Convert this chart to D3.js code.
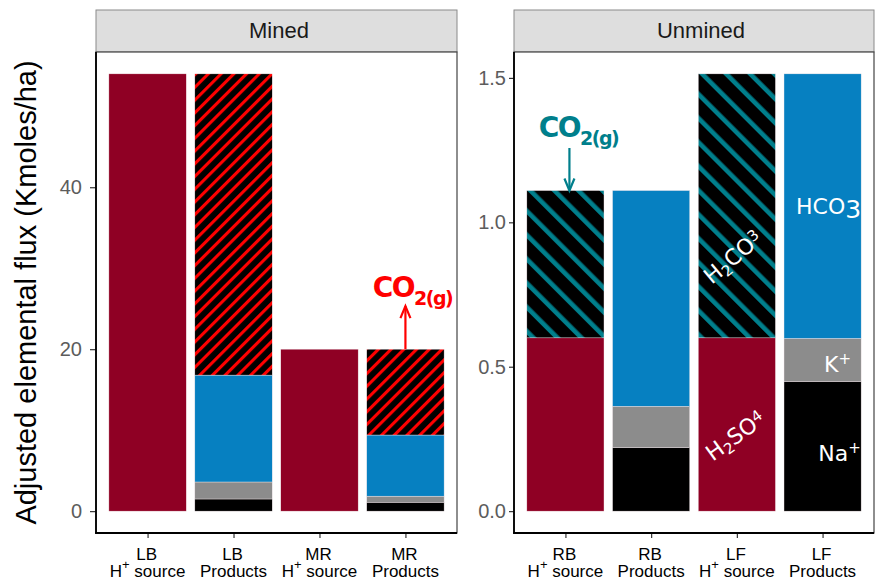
<!DOCTYPE html>
<html>
<head>
<meta charset="utf-8">
<script src="https://cdn.jsdelivr.net/npm/d3@7"></script>
<style>
  body { margin: 0; background: #fff; }
  svg { display: block; }
</style>
</head>
<body>
<svg id="chart"></svg>
<script>
let width = 879;
let height = 581;

// data
let layers = ["H2SO4", "Na", "K", "HCO3", "H2CO3"];

let minedSites = ["LB", "LB", "MR", "MR"];
let minedKinds = ["source", "Products", "source", "Products"];
let minedH2SO4 = [54, 0, 20, 0];
let minedNa = [0, 1.5, 0, 1.1];
let minedK = [0, 2.1, 0, 0.75];
let minedHCO3 = [0, 13.2, 0, 7.55];
let minedH2CO3 = [0, 37.2, 0, 10.6];
let minedTicks = [0, 20, 40];

let unminedSites = ["RB", "RB", "LF", "LF"];
let unminedKinds = ["source", "Products", "source", "Products"];
let unminedH2SO4 = [0.6, 0, 0.6, 0];
let unminedNa = [0, 0.22, 0, 0.449];
let unminedK = [0, 0.143, 0, 0.149];
let unminedHCO3 = [0, 0.747, 0, 0.916];
let unminedH2CO3 = [0.51, 0, 0.914, 0];
let unminedTicks = [0, 0.5, 1.0, 1.5];

let colors = { H2SO4: "#8f0024", Na: "#000000", K: "#8c8c8c", HCO3: "#0680c1" };

let svg = d3.select("#chart").attr("width", width).attr("height", height);
let defs = svg.append("defs");

let makeHatch = (id, stripe, angle, period, thick) => {
  let p = defs.append("pattern")
    .attr("id", id)
    .attr("patternUnits", "userSpaceOnUse")
    .attr("width", period)
    .attr("height", period)
    .attr("patternTransform", "rotate(" + angle + ")");
  p.append("rect").attr("width", period).attr("height", period).attr("fill", "#000");
  p.append("rect").attr("width", thick).attr("height", period).attr("fill", stripe);
};
makeHatch("hatchRed", "#ff0000", 45, 9, 3.1);
makeHatch("hatchTeal", "#007f8c", -45, 17, 4.6);

let rows = (sites, kinds, cols) =>
  sites.map((s, i) => {
    let r = { key: s + " " + kinds[i], site: s, kind: kinds[i] };
    layers.forEach((l, j) => (r[l] = cols[j][i]));
    return r;
  });

let panels = [
  {
    title: "Mined", x0: 96, x1: 457, titleX: 279, tickLen: 6, tickPad: 8,
    data: rows(minedSites, minedKinds, [minedH2SO4, minedNa, minedK, minedHCO3, minedH2CO3]),
    ticks: minedTicks, fmt: d3.format("d"), hatch: "url(#hatchRed)"
  },
  {
    title: "Unmined", x0: 514, x1: 874, titleX: 701, tickLen: 5, tickPad: 3,
    data: rows(unminedSites, unminedKinds, [unminedH2SO4, unminedNa, unminedK, unminedHCO3, unminedH2CO3]),
    ticks: unminedTicks, fmt: d3.format(".1f"), hatch: "url(#hatchTeal)"
  }
];

let panelTop = 52;
let panelBottom = 533;
let stack = d3.stack().keys(layers);

panels.forEach((pn) => {
  let maxTotal = d3.max(pn.data, (d) => d3.sum(layers, (l) => d[l]));
  let yScale = d3.scaleLinear()
    .domain([-0.05 * maxTotal, maxTotal * 1.05])
    .range([panelBottom, panelTop]);
  let xScale = d3.scalePoint()
    .domain(pn.data.map((d) => d.key))
    .range([pn.x0, pn.x1])
    .padding(0.6);
  let bw = xScale.step() * 0.9;
  pn.y = yScale;
  pn.xs = xScale;

  let g = svg.append("g");

  // strip
  g.append("rect")
    .attr("x", pn.x0).attr("y", 10)
    .attr("width", pn.x1 - pn.x0).attr("height", panelTop - 10)
    .attr("fill", "#dedede").attr("stroke", "#8a8a8a").attr("stroke-width", 1);
  g.append("text")
    .attr("x", pn.titleX).attr("y", 38)
    .attr("text-anchor", "middle")
    .style("font-family", "Liberation Sans, Arial, sans-serif")
    .style("font-size", "22px").attr("fill", "#1a1a1a")
    .text(pn.title);

  // panel
  g.append("rect")
    .attr("x", pn.x0).attr("y", panelTop)
    .attr("width", pn.x1 - pn.x0).attr("height", panelBottom - panelTop)
    .attr("fill", "#fff").attr("stroke", "#444").attr("stroke-width", 1.2);

  let series = stack(pn.data);
  series.forEach((s) => {
    g.append("g")
      .selectAll("rect")
      .data(s.filter((d) => d[1] - d[0] > 0))
      .enter()
      .append("rect")
      .attr("x", (d) => xScale(d.data.key) - bw / 2)
      .attr("width", bw)
      .attr("y", (d) => yScale(d[1]))
      .attr("height", (d) => yScale(d[0]) - yScale(d[1]))
      .attr("fill", s.key === "H2CO3" ? pn.hatch : colors[s.key])
      .attr("stroke", "#f2e6ea")
      .attr("stroke-width", 0.4);
  });

  // axes
  let yAxis = d3.axisLeft(yScale).tickValues(pn.ticks).tickFormat(pn.fmt)
    .tickSize(pn.tickLen).tickPadding(pn.tickPad);
  let ya = g.append("g").attr("transform", "translate(" + pn.x0 + ",0)").call(yAxis);
  ya.select(".domain").remove();
  ya.selectAll(".tick line").attr("stroke", "#333").attr("stroke-width", 1.2);
  ya.selectAll(".tick text")
    .attr("fill", "#5c5c5c")
    .style("font-family", "Liberation Sans, Arial, sans-serif")
    .style("font-size", "20px");

  let xAxis = d3.axisBottom(xScale).tickSize(5).tickFormat("");
  let xa = g.append("g").attr("transform", "translate(0," + panelBottom + ")").call(xAxis);
  xa.select(".domain").remove();
  xa.selectAll(".tick line").attr("stroke", "#333").attr("stroke-width", 1.2);

  // axis lines (left and bottom)
  g.append("line")
    .attr("x1", pn.x0).attr("x2", pn.x0).attr("y1", panelTop).attr("y2", panelBottom + 0.5)
    .attr("stroke", "#000").attr("stroke-width", 1.8);
  g.append("line")
    .attr("x1", pn.x0 - 0.9).attr("x2", pn.x1).attr("y1", panelBottom).attr("y2", panelBottom)
    .attr("stroke", "#000").attr("stroke-width", 1.8);

  // two-line tick labels
  pn.data.forEach((d) => {
    let cx = xScale(d.key);
    let t = g.append("text")
      .attr("text-anchor", "middle")
      .style("font-family", "Liberation Sans, Arial, sans-serif")
      .style("font-size", "17px").attr("fill", "#000");
    t.append("tspan").attr("x", cx - 1).attr("y", 560).text(d.site);
    if (d.kind === "source") {
      let l2 = t.append("tspan").attr("x", cx).attr("y", 577);
      l2.text("H");
      l2.append("tspan").attr("dy", -8).style("font-size", "13px").text("+");
      l2.append("tspan").attr("dy", 8).text("  source");
    } else {
      t.append("tspan").attr("x", cx).attr("y", 577).text(d.kind);
    }
  });
});

// y title
svg.append("text")
  .attr("transform", "translate(36," + (panelTop + panelBottom) / 2 + ") rotate(-90)")
  .attr("text-anchor", "middle")
  .style("font-family", "Liberation Sans, Arial, sans-serif")
  .style("font-size", "29px").attr("fill", "#000")
  .text("Adjusted elemental flux (Kmoles/ha)");

// annotations
let mined = panels[0];
let unmined = panels[1];
let tip = (pn, i) => pn.y(d3.sum(layers, (l) => pn.data[i][l]));

let addArrow = (color, x, y1, y2) => {
  svg.append("line")
    .attr("x1", x).attr("x2", x).attr("y1", y1).attr("y2", y2)
    .attr("stroke", color).attr("stroke-width", 2.2);
  let dir = y2 > y1 ? 1 : -1;
  svg.append("path")
    .attr("d", "M" + (x - 5) + "," + (y2 - dir * 12) + " L" + x + "," + y2 + " L" + (x + 5) + "," + (y2 - dir * 12))
    .attr("fill", "none").attr("stroke", color).attr("stroke-width", 2.2);
};

let co2 = (color, x, y) => {
  let t = svg.append("text")
    .attr("x", x).attr("y", y)
    .attr("text-anchor", "middle")
    .style("font-family", "DejaVu Sans, sans-serif")
    .style("font-weight", "bold")
    .style("font-size", "28px").attr("fill", color)
    .attr("letter-spacing", "-1.5");
  t.append("tspan").text("CO");
  t.append("tspan").attr("dy", 8).style("font-size", "19px").text("2(g)");
};

let mx = mined.xs(mined.data[3].key);
addArrow("#ff0000", mx, tip(mined, 3), tip(mined, 3) - 43);
co2("#ff0000", mx + 7, 297);

let ux = unmined.xs(unmined.data[0].key);
addArrow("#007f8c", ux + 4, 148, tip(unmined, 0));
co2("#007f8c", ux + 13, 137);

let label = (x, y, rot, parts, size) => {
  let t = svg.append("text")
    .attr("transform", "translate(" + x + "," + y + ") rotate(" + rot + ")")
    .attr("text-anchor", "middle")
    .style("font-family", "DejaVu Sans, sans-serif")
    .style("font-size", size + "px").attr("fill", "#fff");
  parts.forEach((p) => {
    t.append("tspan").attr("dy", p[1]).style("font-size", p[2] + "px").text(p[0]);
  });
};

let lfx = unmined.xs(unmined.data[2].key);
let lpx = unmined.xs(unmined.data[3].key);
label(lpx + 6, 214, 0, [["HCO", 0, 22], ["3", 4, 25]], 22);
label(lfx + 1, 263, -40, [["H", 0, 22], ["2", 4, 15], ["CO", -4, 22], ["3", -6, 15]], 22);
label(lfx + 3, 442, -36, [["H", 0, 22], ["2", 4, 15], ["SO", -4, 22], ["4", -6, 15]], 22);
label(lpx + 15, 372, 0, [["K", 0, 22], ["+", -8, 15]], 22);
label(lpx + 17, 461, 0, [["Na", 0, 22], ["+", -8, 15]], 22);
</script>
</body>
</html>
